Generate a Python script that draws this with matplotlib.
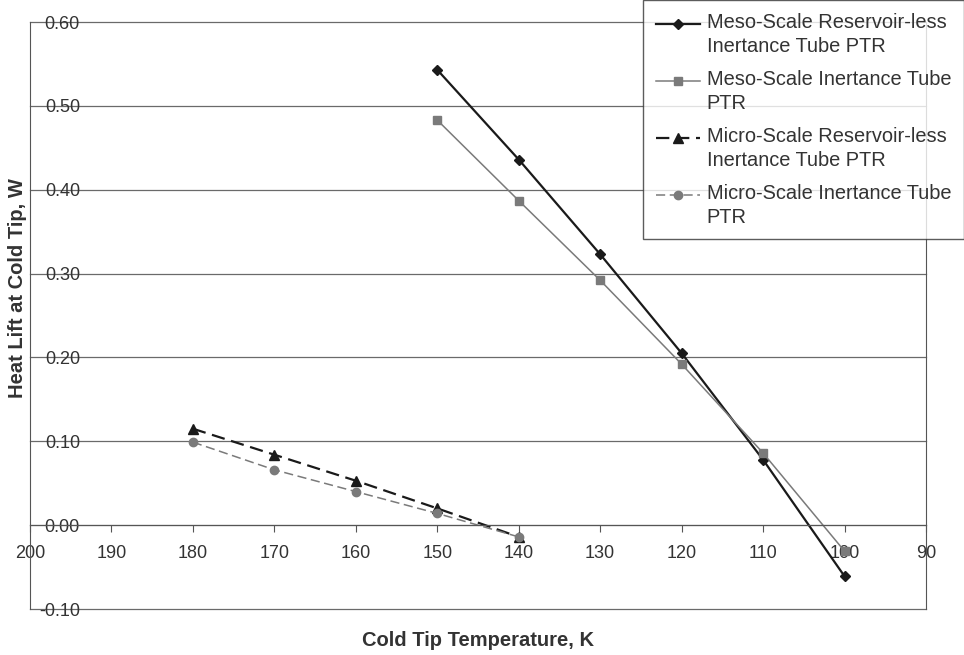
import matplotlib
matplotlib.use("Agg")
import matplotlib.pyplot as plt
from matplotlib.legend_handler import HandlerLine2D

plt.rcParams["font.family"] = ["Liberation Sans", "DejaVu Sans"]

# cold tip temperature, K
temp_meso = [150, 140, 130, 120, 110, 100]
temp_micro = [180, 170, 160, 150, 140]

# heat lift, W
meso_resless = [0.543, 0.436, 0.323, 0.205, 0.078, -0.061]
meso_inert = [0.483, 0.387, 0.292, 0.192, 0.086, -0.031]
micro_resless = [0.115, 0.084, 0.053, 0.020, -0.014]
micro_inert = [0.099, 0.066, 0.040, 0.014, -0.014]

labels = [
    "Meso-Scale Reservoir-less\nInertance Tube PTR",
    "Meso-Scale Inertance Tube\nPTR",
    "Micro-Scale Reservoir-less\nInertance Tube PTR",
    "Micro-Scale Inertance Tube\nPTR",
]
x_ticks = [200, 190, 180, 170, 160, 150, 140, 130, 120, 110, 100, 90]
y_ticks = [-0.10, 0.00, 0.10, 0.20, 0.30, 0.40, 0.50, 0.60]


class FirstLineHandler(HandlerLine2D):
    # put the legend sample beside the first line of a two-line label
    def create_artists(self, legend, orig_handle, xdescent, ydescent, width, height, fontsize, trans):
        arts = super().create_artists(legend, orig_handle, xdescent, ydescent, width, height, fontsize, trans)
        for a in arts:
            a.set_ydata([y + 0.55 * fontsize for y in a.get_ydata()])
        return arts


fig = plt.figure(figsize=(9.64, 6.55), dpi=100)
ax = fig.add_axes([0.0311, 0.0702, 0.9295, 0.8962])

ax.plot(temp_meso, meso_resless, color="#1a1a1a", lw=1.6, marker="D", ms=5, label=labels[0])
ax.plot(temp_meso, meso_inert, color="#7a7a7a", lw=1.1, marker="s", ms=6, label=labels[1])
ax.plot(temp_micro, micro_resless, color="#1a1a1a", lw=1.6, ls=(0, (6, 3)), marker="^", ms=7, label=labels[2])
ax.plot(temp_micro, micro_inert, color="#7a7a7a", lw=1.1, ls=(0, (6, 3)), marker="o", ms=6, label=labels[3])

ax.set_xlim(200, 90)
ax.set_ylim(-0.10, 0.60)
ax.set_xticks(x_ticks)
ax.set_yticks(y_ticks)
ax.set_yticklabels([f"{v:.2f}" for v in y_ticks])

for v in y_ticks:
    ax.axhline(v, color="#6a6a6a", lw=0.9, zorder=0, clip_on=False)

ax.spines["bottom"].set_position(("data", 0))
ax.spines["bottom"].set_color("#555555")
ax.spines["top"].set_visible(False)
ax.spines["left"].set_color("#555555")
ax.spines["right"].set_color("#555555")

ax.tick_params(axis="x", direction="out", length=5, pad=9, labelsize=13, colors="#555555", labelcolor="#333333")
ax.tick_params(axis="y", length=0, pad=-36, labelsize=13, labelcolor="#333333")

ax.set_xlabel("Cold Tip Temperature, K", fontsize=14.5, fontweight="bold", color="#333333")
ax.xaxis.set_label_coords(0.5, -0.037)
ax.set_ylabel("Heat Lift at Cold Tip, W", fontsize=14.5, fontweight="bold", color="#333333")
ax.yaxis.set_label_coords(-0.003, 0.547)

leg = ax.legend(loc="upper right", bbox_to_anchor=(0.9995, 0.9995), bbox_transform=fig.transFigure,
                fontsize=14.4, frameon=True, fancybox=False, borderaxespad=0, handlelength=2.2,
                labelspacing=0.7, borderpad=0.62, handletextpad=0.35, labelcolor="#333333",
                handler_map={plt.Line2D: FirstLineHandler()})
for t in leg.get_texts():
    t.set_linespacing(1.33)
leg.get_frame().set_edgecolor("#333333")
leg.get_frame().set_linewidth(1.0)

fig.savefig("out.png", dpi=100)
